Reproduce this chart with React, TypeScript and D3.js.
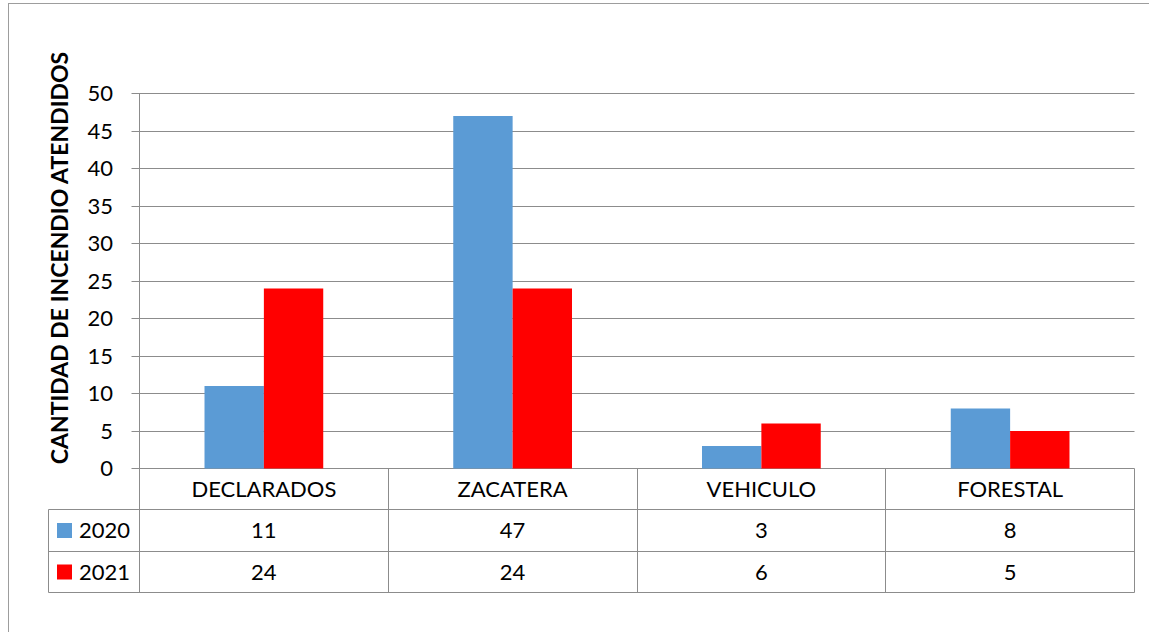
import React, { useEffect, useRef } from "react";
import * as d3 from "d3";

const categories = ["DECLARADOS", "ZACATERA", "VEHICULO", "FORESTAL"];
const seriesNames = ["2020", "2021"];
const values2020 = [11, 47, 3, 8];
const values2021 = [24, 24, 6, 5];
const yTicks = [0, 5, 10, 15, 20, 25, 30, 35, 40, 45, 50];
const colors = ["#5B9BD5", "#FF0000"];
const yTitle = "CANTIDAD DE INCENDIO ATENDIDOS";

const W = 1149;
const H = 632;
const FONT = "Lato, 'Open Sans', sans-serif";

export default function App() {
	const ref = useRef<SVGSVGElement>(null);

	useEffect(() => {
		const svg = d3.select(ref.current);
		svg.selectAll("*").remove();

		const left = 139.5;
		const right = 1134.5;
		const top = 93.5;
		const zeroY = 468.5;
		const rowH = 41.3;
		const tableLeft = 48.5;
		const rows = [zeroY, zeroY + rowH, zeroY + rowH * 2, zeroY + rowH * 3].map((v) => Math.round(v - 0.5) + 0.5);

		const y = d3.scaleLinear().domain([0, 50]).range([zeroY, top]);
		const x = d3.scaleBand().domain(categories).range([left, right]);
		// excel gap width ~219%
		const barW = x.bandwidth() / 4.19;

		// outer frame (cut off at right and bottom)
		svg
			.append("rect")
			.attr("x", 8.5)
			.attr("y", 3.5)
			.attr("width", 1200)
			.attr("height", 700)
			.attr("fill", "none")
			.attr("stroke", "#9d9d9d");

		// gridlines + ticks
		svg
			.append("g")
			.selectAll("line")
			.data(yTicks)
			.enter()
			.append("line")
			.attr("x1", left - 8)
			.attr("x2", right)
			.attr("y1", (d) => Math.round(y(d) - 0.5) + 0.5)
			.attr("y2", (d) => Math.round(y(d) - 0.5) + 0.5)
			.attr("stroke", "#8c8c8c")
			.attr("stroke-width", 1);

		svg
			.append("g")
			.selectAll("text")
			.data(yTicks)
			.enter()
			.append("text")
			.attr("x", 113)
			.attr("y", (d) => y(d))
			.attr("dy", "0.36em")
			.attr("text-anchor", "end")
			.attr("font-family", FONT)
			.attr("font-size", 22)
			.attr("fill", "#000")
			.text((d) => d);

		// y title
		svg
			.append("text")
			.attr("transform", "translate(68,258) rotate(-90)")
			.attr("text-anchor", "middle")
			.attr("font-family", FONT)
			.attr("font-size", 23)
			.attr("font-weight", "bold")
			.attr("fill", "#000")
			.text(yTitle);

		// bars
		const series = [values2020, values2021];
		series.forEach((vals, si) => {
			svg
				.append("g")
				.selectAll("rect")
				.data(vals)
				.enter()
				.append("rect")
				.attr("x", (d, i) => (x(categories[i]) as number) + x.bandwidth() / 2 - barW + si * barW)
				.attr("y", (d) => y(d))
				.attr("width", barW)
				.attr("height", (d) => zeroY - y(d))
				.attr("fill", colors[si]);
		});

		// data table
		const grid = svg.append("g").attr("stroke", "#8c8c8c").attr("stroke-width", 1);
		grid.append("line").attr("x1", left).attr("x2", left).attr("y1", top).attr("y2", rows[3]);
		[1, 2, 3].forEach((r) => {
			grid.append("line").attr("x1", tableLeft).attr("x2", right).attr("y1", rows[r]).attr("y2", rows[r]);
		});
		grid.append("line").attr("x1", tableLeft).attr("x2", tableLeft).attr("y1", rows[1]).attr("y2", rows[3]);
		categories.forEach((c, i) => {
			const xx = Math.round((x(c) as number) + x.bandwidth() - 0.5) + 0.5;
			grid.append("line").attr("x1", xx).attr("x2", xx).attr("y1", rows[0]).attr("y2", rows[3]);
		});

		svg
			.append("g")
			.selectAll("text")
			.data(categories)
			.enter()
			.append("text")
			.attr("x", (d) => (x(d) as number) + x.bandwidth() / 2)
			.attr("y", (rows[0] + rows[1]) / 2)
			.attr("dy", "0.36em")
			.attr("text-anchor", "middle")
			.attr("font-family", FONT)
			.attr("font-size", 22)
			.text((d) => d);

		series.forEach((vals, si) => {
			const cy = (rows[si + 1] + rows[si + 2]) / 2;
			svg
				.append("g")
				.selectAll("text")
				.data(vals)
				.enter()
				.append("text")
				.attr("x", (d, i) => (x(categories[i]) as number) + x.bandwidth() / 2)
				.attr("y", cy)
				.attr("dy", "0.36em")
				.attr("text-anchor", "middle")
				.attr("font-family", FONT)
				.attr("font-size", 22)
				.text((d) => d);
			svg
				.append("rect")
				.attr("x", 57)
				.attr("y", cy - 7.5)
				.attr("width", 15)
				.attr("height", 15)
				.attr("fill", colors[si]);
			svg
				.append("text")
				.attr("x", 79)
				.attr("y", cy)
				.attr("dy", "0.36em")
				.attr("font-family", FONT)
				.attr("font-size", 22)
				.text(seriesNames[si]);
		});
	}, []);

	return (
		<div style={{ position: "absolute", left: 0, top: 0 }}>
			<svg ref={ref} width={W} height={H} style={{ display: "block", background: "#fff" }}></svg>
		</div>
	);
}
